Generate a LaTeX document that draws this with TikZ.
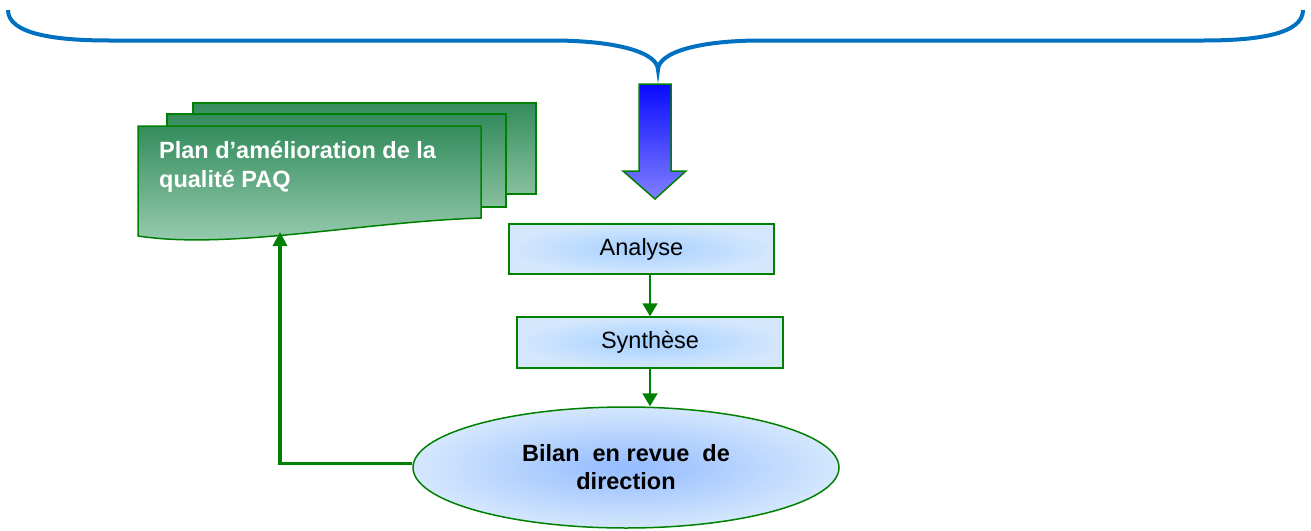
\documentclass[tikz,border=0pt]{standalone}
\usepackage{fontspec}
\setmainfont{Liberation Sans}
\usetikzlibrary{shapes.geometric,arrows.meta,calc}

\definecolor{braceblue}{RGB}{0,112,192}
\definecolor{linegreen}{RGB}{0,128,0}
\definecolor{boxout}{RGB}{212,231,253}
\definecolor{boxin}{RGB}{165,208,255}
\definecolor{docTop}{RGB}{52,140,92}
\definecolor{docBottom}{RGB}{158,208,182}
\definecolor{sheetBottom}{RGB}{135,192,158}
\definecolor{arrowTop}{RGB}{10,10,255}
\definecolor{arrowBottom}{RGB}{128,128,255}

\tikzset{
  txt/.style={font=\fontsize{23.5}{29}\selectfont},
  procbox/.style={txt, draw=linegreen, line width=1.5pt, rectangle,
    inner color=boxin, outer color=boxout, inner sep=0pt},
  bilanshape/.style={txt, font=\fontsize{23.5}{28}\selectfont\bfseries,
    draw=linegreen, line width=1.5pt, ellipse, inner sep=0pt,
    inner color=boxin!90!blue, outer color=boxout, align=center},
  sheet/.style={draw=linegreen, line width=1.5pt, top color=docTop, bottom color=sheetBottom},
  flow/.style={draw=linegreen, line width=2pt, -{Triangle[length=13pt,width=15pt]}},
  feedback/.style={draw=linegreen, line width=3.2pt, -{Triangle[length=14pt,width=14pt]}},
}

\begin{document}
\begin{tikzpicture}[x=1pt,y=1pt]
\useasboundingbox (0,0) rectangle (1311,-530);

% curly brace across the top
\draw[braceblue, line width=4pt]
  (8,-10) .. controls (8,-34) and (55,-40.5) .. (109,-40.5)
  -- (552,-40.5)
  .. controls (615,-40.5) and (658,-52) .. (658,-70)
  .. controls (658,-52) and (700,-40.5) .. (761,-40.5)
  -- (1204,-40.5)
  .. controls (1258,-40.5) and (1303,-34) .. (1303,-10);

% block arrow pointing down
\draw[draw=linegreen, line width=1.5pt, top color=arrowTop, bottom color=arrowBottom]
  (639,-84) -- (671,-84) -- (671,-171) -- (686,-171) -- (655,-199)
  -- (623,-171) -- (639,-171) -- cycle;

% stacked document sheets
\draw[sheet] (193,-103) rectangle (536,-194);
\draw[sheet] (167,-114) rectangle (506,-207);
\draw[draw=linegreen, line width=1.5pt, top color=docTop, bottom color=docBottom]
  (138,-126) -- (481,-126) -- (481,-218)
  .. controls (360,-222) and (230,-250) .. (138,-236) -- cycle;
\node[txt, font=\fontsize{23.5}{29}\selectfont\bfseries, text=white,
      anchor=north west, align=left, inner sep=0pt] (plan) at (159,-141)
  {Plan d’amélioration de la\\qualité PAQ};
\coordinate (docin) at (280,-232);

% process steps
\node[procbox, minimum width=265pt, minimum height=50pt] (analyse) at (641.5,-249) {Analyse};
\node[procbox, minimum width=266pt, minimum height=51pt] (synth) at (650,-342.5) {Synthèse};
\node[bilanshape, minimum width=426pt, minimum height=121pt] (bilan) at (626,-467.5)
  {Bilan\ \ en revue\ \ de\\direction};

% connectors
\draw[flow] (synth.north |- analyse.south) -- (synth.north);
\draw[flow] (synth.south) -- (synth.south |- bilan.north);
\draw[feedback] ($(bilan.west)+(0,4)$) -| (docin);
\end{tikzpicture}
\end{document}
